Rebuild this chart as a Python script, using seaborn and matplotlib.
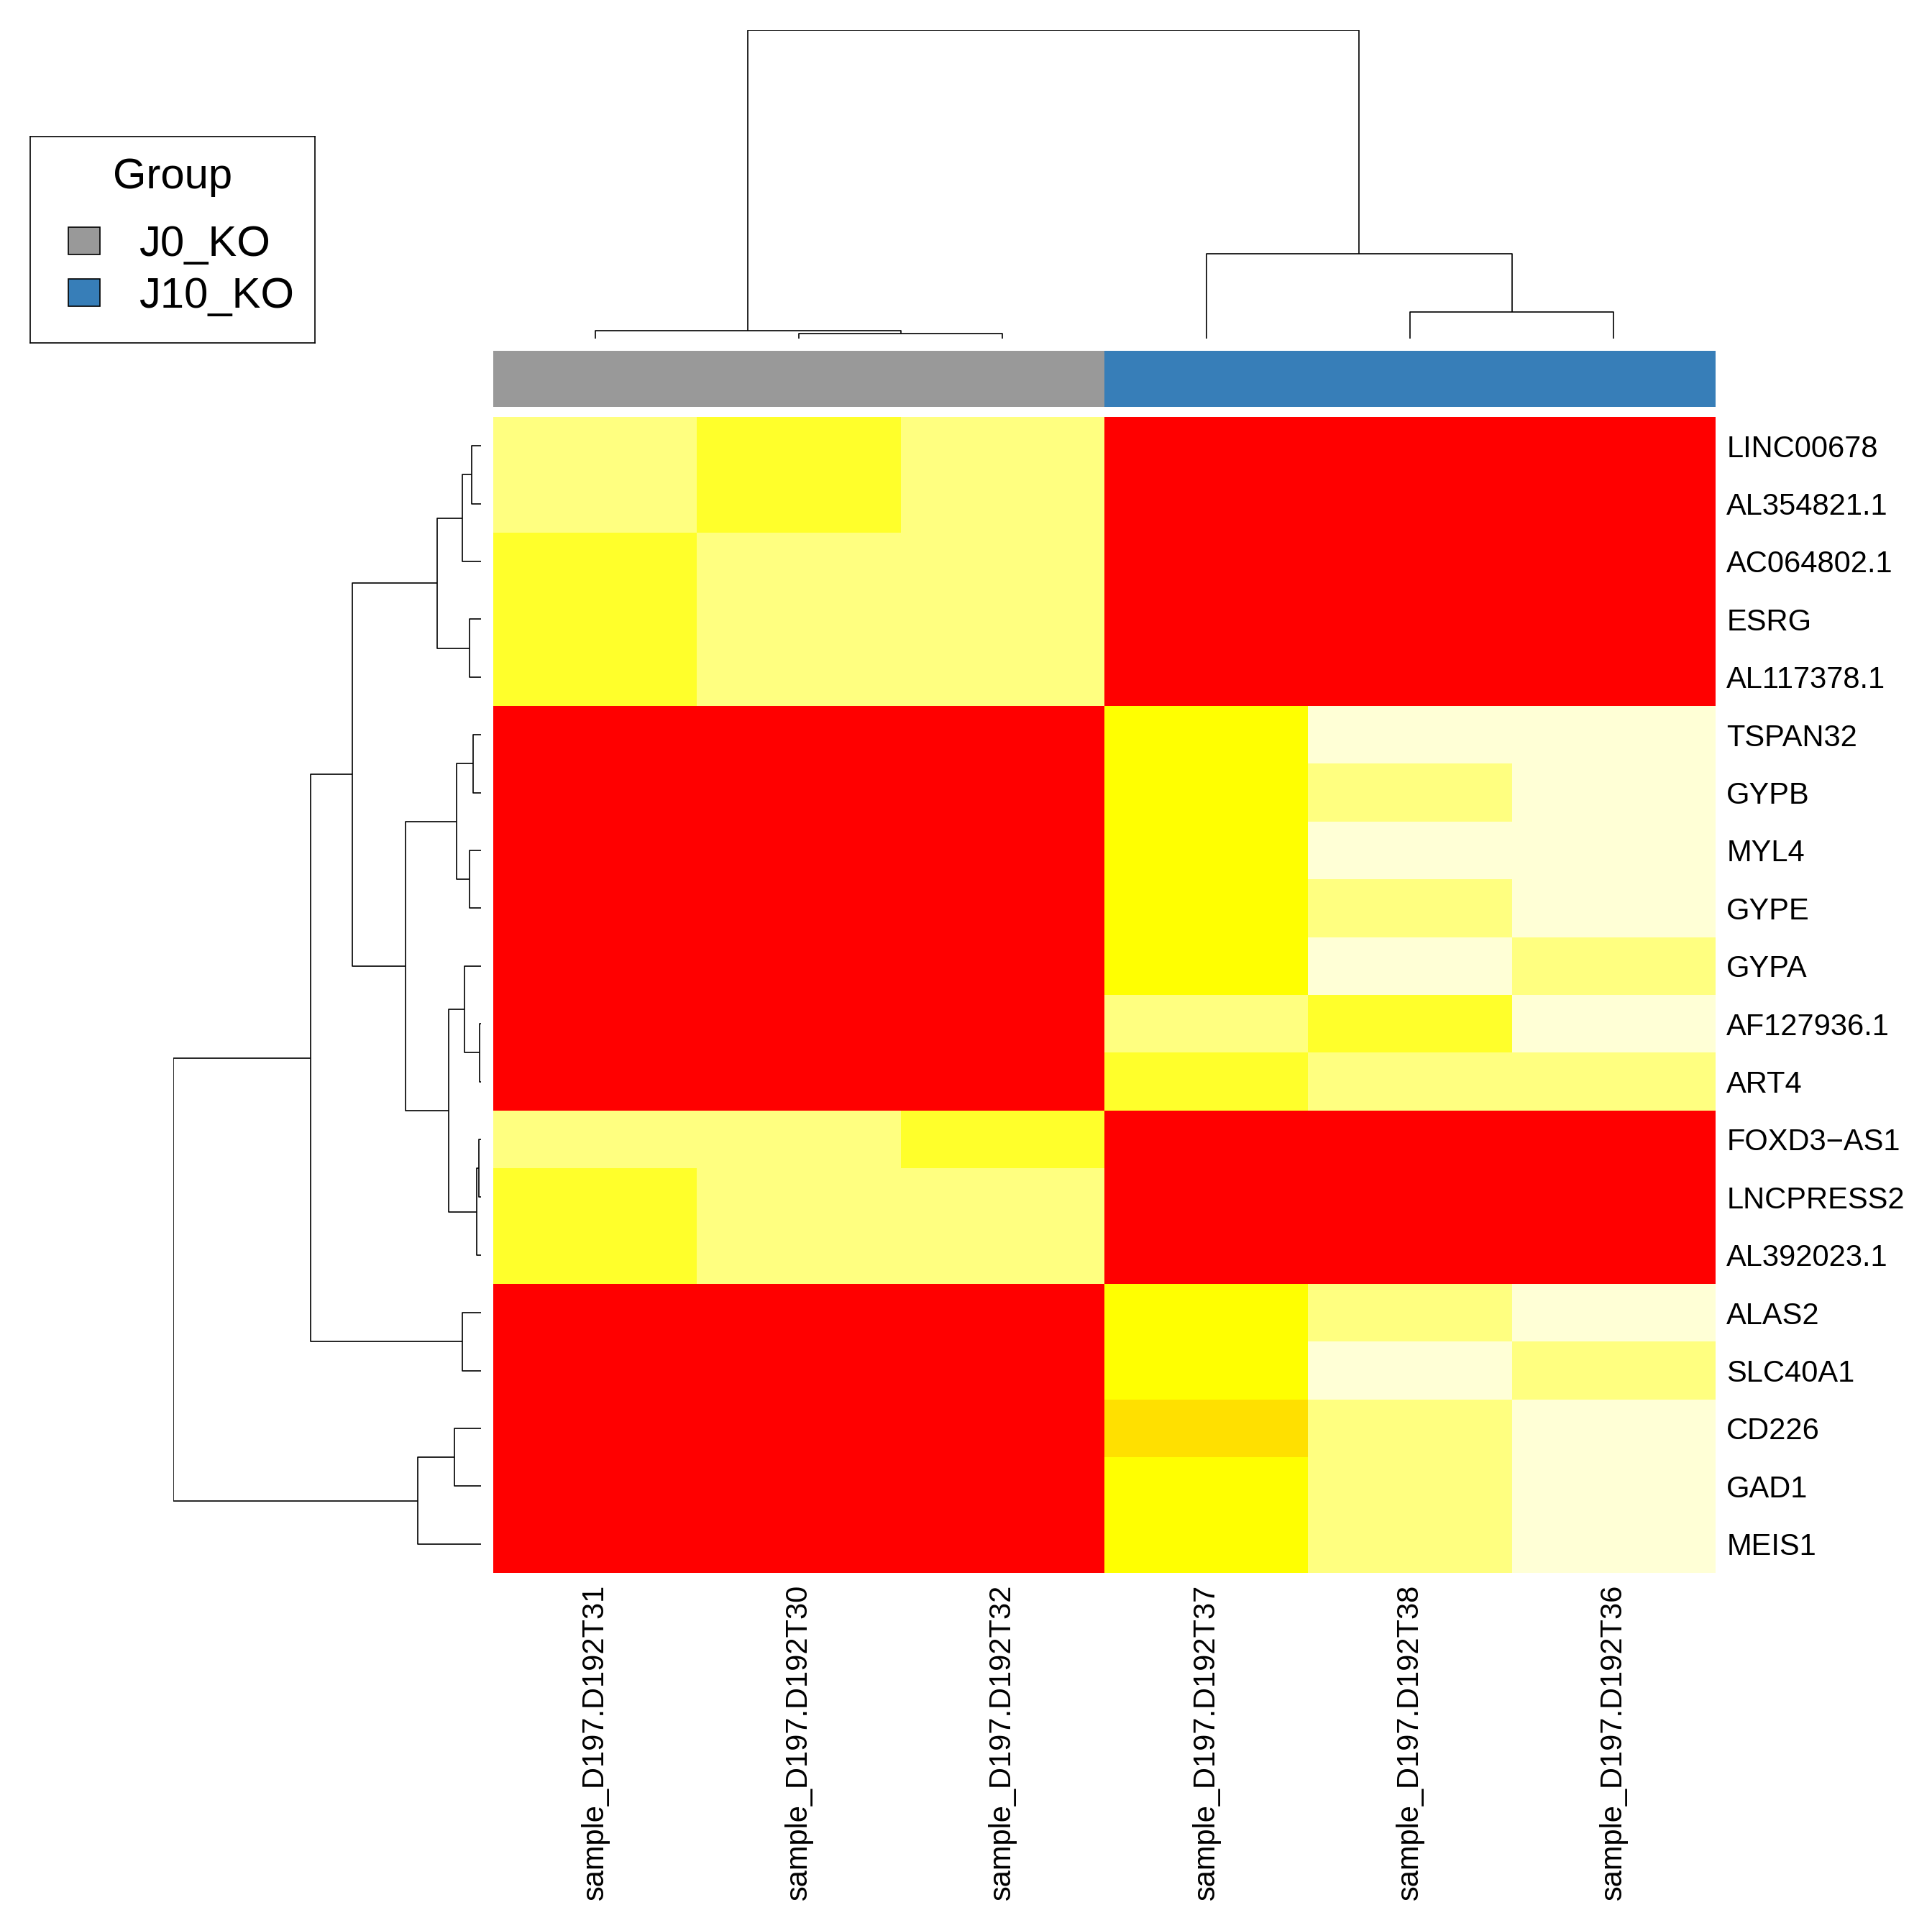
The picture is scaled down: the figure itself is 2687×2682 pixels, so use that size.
import numpy as np
import pandas as pd
import matplotlib
matplotlib.use("Agg")
import matplotlib.pyplot as plt
import seaborn as sns
from matplotlib.colors import LinearSegmentedColormap, ListedColormap
from matplotlib.patches import Patch

# ----------------------------------------------------
# data (rows/cols already in dendrogram order)
# ----------------------------------------------------
samples = ["sample_D197.D192T31", "sample_D197.D192T30", "sample_D197.D192T32",
           "sample_D197.D192T37", "sample_D197.D192T38", "sample_D197.D192T36"]
sample_group = ["J0_KO", "J0_KO", "J0_KO", "J10_KO", "J10_KO", "J10_KO"]

genes = ["LINC00678", "AL354821.1", "AC064802.1", "ESRG", "AL117378.1",
         "TSPAN32", "GYPB", "MYL4", "GYPE", "GYPA", "AF127936.1", "ART4",
         "FOXD3\u2212AS1", "LNCPRESS2", "AL392023.1", "ALAS2", "SLC40A1",
         "CD226", "GAD1", "MEIS1"]

# colour level per cell, 0 = red ... 0.5 = yellow ... 1 = pale yellow
expr = [
    [0.80, 0.60, 0.80, 0.00, 0.00, 0.00],
    [0.80, 0.60, 0.80, 0.00, 0.00, 0.00],
    [0.60, 0.80, 0.80, 0.00, 0.00, 0.00],
    [0.60, 0.80, 0.80, 0.00, 0.00, 0.00],
    [0.60, 0.80, 0.80, 0.00, 0.00, 0.00],
    [0.00, 0.00, 0.00, 0.50, 1.00, 1.00],
    [0.00, 0.00, 0.00, 0.50, 0.80, 1.00],
    [0.00, 0.00, 0.00, 0.50, 1.00, 1.00],
    [0.00, 0.00, 0.00, 0.50, 0.80, 1.00],
    [0.00, 0.00, 0.00, 0.50, 1.00, 0.80],
    [0.00, 0.00, 0.00, 0.80, 0.60, 1.00],
    [0.00, 0.00, 0.00, 0.60, 0.80, 0.80],
    [0.80, 0.80, 0.60, 0.00, 0.00, 0.00],
    [0.60, 0.80, 0.80, 0.00, 0.00, 0.00],
    [0.60, 0.80, 0.80, 0.00, 0.00, 0.00],
    [0.00, 0.00, 0.00, 0.50, 0.80, 1.00],
    [0.00, 0.00, 0.00, 0.50, 1.00, 0.80],
    [0.00, 0.00, 0.00, 0.44, 0.80, 1.00],
    [0.00, 0.00, 0.00, 0.50, 0.80, 1.00],
    [0.00, 0.00, 0.00, 0.50, 0.80, 1.00],
]

groups = ["J0_KO", "J10_KO"]
group_colors = ["#999999", "#377EB8"]

# dendrogram merges: (left, right, height); ids >= n are earlier merges
row_merge_left = [0, 20, 3, 21, 5, 7, 24, 10, 9, 12, 29, 28, 26, 23, 15, 33, 17, 36, 35]
row_merge_right = [1, 2, 4, 22, 6, 8, 25, 11, 27, 13, 14, 30, 31, 32, 16, 34, 18, 19, 37]
row_merge_height = [13.3, 26, 16.3, 60.7, 11.3, 16.3, 34, 2, 23, 3, 6, 45.3, 105.3,
                    179, 26, 236.7, 37.3, 88, 428.3]

col_merge_left = [1, 0, 4, 3, 7]
col_merge_right = [2, 6, 5, 8, 9]
col_merge_height = [7.4, 11.2, 37.3, 117.7, 429]


# ----------------------------------------------------
# dendrogram helper: draws elbow links on an axis
# ----------------------------------------------------
def draw_dendrogram(ax, n, lefts, rights, heights, orient="top", lw=1.2):
    pos = {i: i + 0.5 for i in range(n)}
    hgt = {i: 0.0 for i in range(n)}
    for k, (a, b, h) in enumerate(zip(lefts, rights, heights)):
        pa, pb = pos[a], pos[b]
        ha, hb = hgt[a], hgt[b]
        p_line = [pa, pa, pb, pb]
        h_line = [ha, h, h, hb]
        if orient == "top":
            ax.plot(p_line, h_line, color="black", lw=lw, solid_capstyle="butt")
        else:
            ax.plot(h_line, p_line, color="black", lw=lw, solid_capstyle="butt")
        pos[n + k] = (pa + pb) / 2
        hgt[n + k] = h
    top = max(heights)
    if orient == "top":
        ax.set_xlim(0, n)
        ax.set_ylim(0, top)
    else:
        ax.set_ylim(n, 0)
        ax.set_xlim(top, 0)
    ax.axis("off")


sns.set_theme(style="white")
plt.rcParams["font.family"] = ["Liberation Sans", "DejaVu Sans"]
plt.rcParams["text.color"] = "black"
plt.rcParams["xtick.color"] = "black"
plt.rcParams["ytick.color"] = "black"

W, H = 2687, 2682
fig = plt.figure(figsize=(W / 100, H / 100), dpi=100)


def px_axes(x0, y0, x1, y1):
    return fig.add_axes([x0 / W, 1 - y1 / H, (x1 - x0) / W, (y1 - y0) / H])


ax_heat = px_axes(686, 580, 2386, 2188)
ax_side = px_axes(686, 488, 2386, 566)
ax_col = px_axes(686, 42, 2386, 471)
ax_row = px_axes(241, 580, 669, 2188)
ax_leg = px_axes(42, 190, 438, 477)

# ----------------------------------------------------
# main heatmap
# ----------------------------------------------------
cmap = LinearSegmentedColormap.from_list(
    "ryl", [(0.0, "#FF0000"), (0.5, "#FFFF00"), (1.0, "#FFFFD6")])
df = pd.DataFrame(expr, index=genes, columns=samples)
sns.heatmap(df, ax=ax_heat, cmap=cmap, vmin=0, vmax=1, cbar=False,
            xticklabels=True, yticklabels=True, linewidths=0)
ax_heat.yaxis.tick_right()
ax_heat.tick_params(axis="both", length=0, labelsize=30, pad=11, labelcolor="black")
ax_heat.set_xlabel("")
ax_heat.set_ylabel("")
plt.setp(ax_heat.get_yticklabels(), rotation=0, ha="left")
plt.setp(ax_heat.get_xticklabels(), rotation=90, ha="center", va="top")

# ----------------------------------------------------
# sample group colour strip
# ----------------------------------------------------
side_codes = np.array([[groups.index(g) for g in sample_group]])
sns.heatmap(side_codes, ax=ax_side, cmap=ListedColormap(group_colors),
            vmin=-0.5, vmax=1.5, cbar=False, xticklabels=False, yticklabels=False)

# ----------------------------------------------------
# dendrograms
# ----------------------------------------------------
draw_dendrogram(ax_col, len(samples), col_merge_left, col_merge_right,
                col_merge_height, orient="top")
draw_dendrogram(ax_row, len(genes), row_merge_left, row_merge_right,
                row_merge_height, orient="left")

# ----------------------------------------------------
# legend (boxed axes with title + legend entries)
# ----------------------------------------------------
ax_leg.set_xticks([])
ax_leg.set_yticks([])
for sp in ax_leg.spines.values():
    sp.set_visible(True)
    sp.set_color("black")
    sp.set_linewidth(1.2)
ax_leg.text(0.5, 1 - (262 - 190) / (477 - 190), "Group", ha="center", va="baseline",
            fontsize=43, transform=ax_leg.transAxes)
handles = [Patch(facecolor=c, edgecolor="black", linewidth=1.2, label=g)
           for g, c in zip(groups, group_colors)]
ax_leg.legend(handles=handles, loc="upper left",
              bbox_to_anchor=(95 / W, 1 - 313 / H), bbox_transform=fig.transFigure,
              fontsize=43, frameon=False, handlelength=0.74, handleheight=0.6,
              handletextpad=0.9, borderpad=0, labelspacing=0.28, borderaxespad=0)

fig.savefig("out.png", dpi=100)
plt.close(fig)
